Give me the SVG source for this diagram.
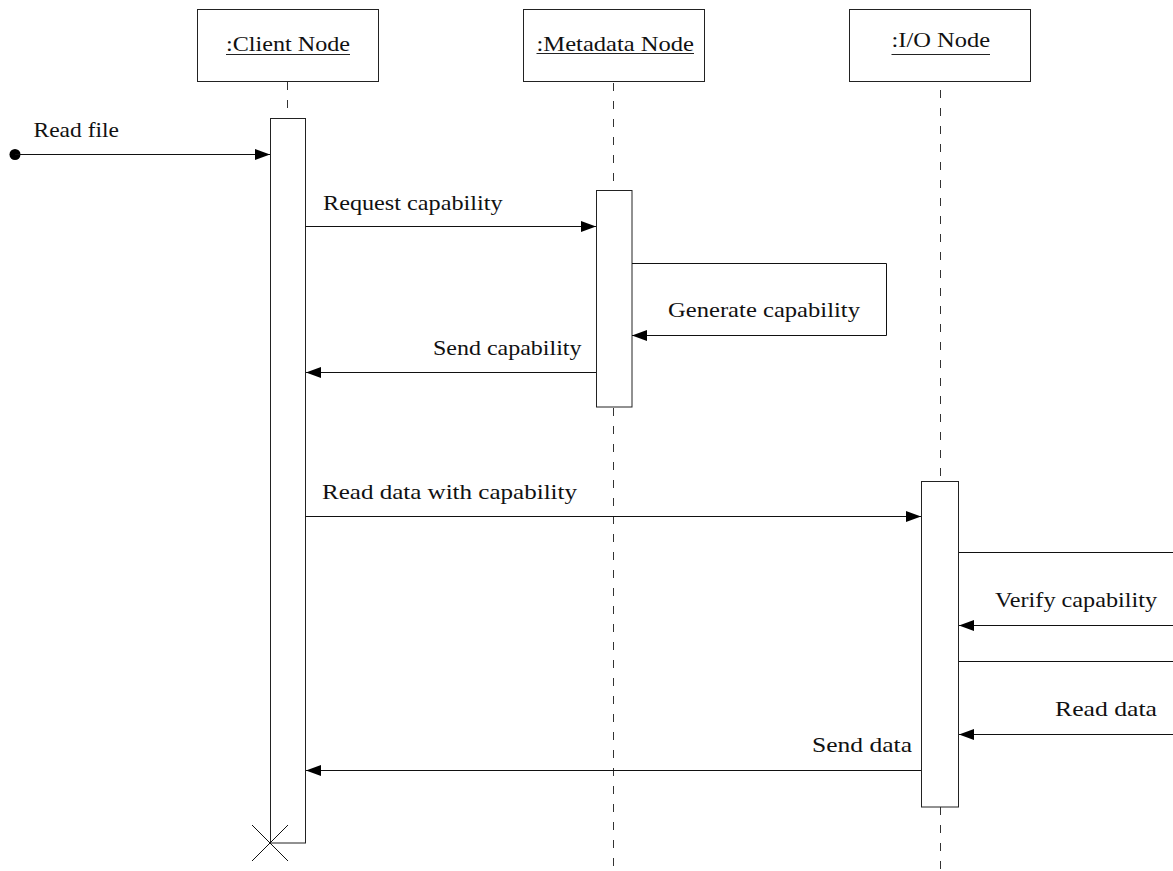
<svg xmlns="http://www.w3.org/2000/svg" width="1173" height="871" viewBox="0 0 1173 871">
  <defs>
    <style>
      .box { fill: #fff; stroke: #222; stroke-width: 1; }
      .life { fill: none; stroke: #333; stroke-width: 1; stroke-dasharray: 8 10; }
      .msg { fill: none; stroke: #111; stroke-width: 1; }
      .uline { stroke: #222; stroke-width: 1; }
      .lbl { font-family: "Liberation Serif", "DejaVu Serif", serif; font-size: 22px; fill: #111; }
    </style>
    <marker id="arr" markerUnits="userSpaceOnUse" markerWidth="16" markerHeight="12" refX="15" refY="6" orient="auto">
      <path d="M0,0.5 L15,6 L0,11.5 Z" fill="#000"/>
    </marker>
  </defs>
  <rect width="1173" height="871" fill="#fff"/>

  <g id="client-node">
    <rect class="box" x="197.5" y="9.5" width="181" height="72"/>
    <text class="lbl" x="226" y="51" textLength="124" lengthAdjust="spacingAndGlyphs">:Client Node</text>
    <line class="uline" x1="226" y1="54.5" x2="350" y2="54.5"/>
    <line class="life" x1="287.5" y1="82" x2="287.5" y2="118"/>
    <rect class="box" x="270.5" y="118.5" width="35" height="724.5"/>
    <line class="msg" x1="252" y1="825" x2="288" y2="861"/>
    <line class="msg" x1="288" y1="825" x2="252" y2="861"/>
  </g>

  <g id="metadata-node">
    <rect class="box" x="523.5" y="9.5" width="181" height="72"/>
    <text class="lbl" x="536.5" y="50.5" textLength="157.5" lengthAdjust="spacingAndGlyphs">:Metadata Node</text>
    <line class="uline" x1="536.5" y1="53.5" x2="694" y2="53.5"/>
    <line class="life" x1="613.5" y1="83" x2="613.5" y2="190"/>
    <line class="life" x1="613.5" y1="408" x2="613.5" y2="871"/>
    <rect class="box" x="596.5" y="190.5" width="35.5" height="216.5"/>
  </g>

  <g id="io-node">
    <rect class="box" x="849.5" y="9.5" width="181" height="72"/>
    <text class="lbl" x="891.5" y="47" textLength="98.5" lengthAdjust="spacingAndGlyphs">:I/O Node</text>
    <line class="uline" x1="891.5" y1="54.5" x2="990" y2="54.5"/>
    <line class="life" x1="940.5" y1="90" x2="940.5" y2="481"/>
    <line class="life" x1="940.5" y1="807" x2="940.5" y2="871"/>
    <rect class="box" x="921.5" y="481.5" width="37" height="325.5"/>
  </g>

  <g id="connectors">
    <circle cx="15" cy="154.5" r="5.5" fill="#000"/>
    <line class="msg" x1="15" y1="154.5" x2="270" y2="154.5" marker-end="url(#arr)"/>
    <text class="lbl" x="33.5" y="136.5" textLength="85.5" lengthAdjust="spacingAndGlyphs">Read file</text>

    <line class="msg" x1="305.5" y1="226.5" x2="596" y2="226.5" marker-end="url(#arr)"/>
    <text class="lbl" x="323" y="210" textLength="179.5" lengthAdjust="spacingAndGlyphs">Request capability</text>

    <polyline class="msg" points="632,263.5 886.5,263.5 886.5,335.5 632,335.5" marker-end="url(#arr)"/>
    <text class="lbl" x="668" y="317" textLength="192" lengthAdjust="spacingAndGlyphs">Generate capability</text>

    <line class="msg" x1="596" y1="372.5" x2="306" y2="372.5" marker-end="url(#arr)"/>
    <text class="lbl" x="433" y="355" textLength="148.5" lengthAdjust="spacingAndGlyphs">Send capability</text>

    <line class="msg" x1="305.5" y1="516.5" x2="921" y2="516.5" marker-end="url(#arr)"/>
    <text class="lbl" x="322" y="498.5" textLength="255" lengthAdjust="spacingAndGlyphs">Read data with capability</text>

    <polyline class="msg" points="959,552.5 1190,552.5 1190,625.5 959,625.5" marker-end="url(#arr)"/>
    <text class="lbl" x="995" y="607" textLength="162" lengthAdjust="spacingAndGlyphs">Verify capability</text>

    <polyline class="msg" points="959,661.5 1190,661.5 1190,734.5 959,734.5" marker-end="url(#arr)"/>
    <text class="lbl" x="1055" y="716" textLength="102" lengthAdjust="spacingAndGlyphs">Read data</text>

    <line class="msg" x1="921" y1="770.5" x2="306" y2="770.5" marker-end="url(#arr)"/>
    <text class="lbl" x="812" y="752" textLength="100" lengthAdjust="spacingAndGlyphs">Send data</text>
  </g>
</svg>
